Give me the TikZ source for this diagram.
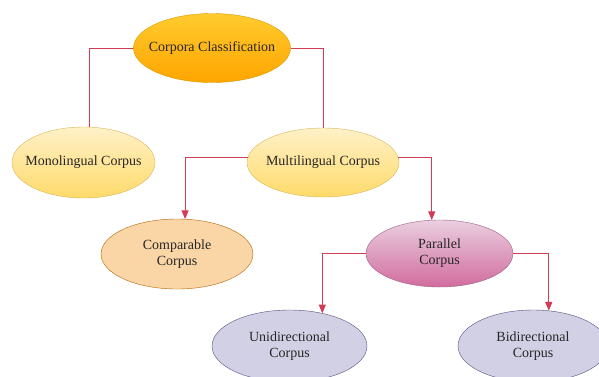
\documentclass[tikz,border=0pt]{standalone}
\usepackage{fontspec}
\setmainfont{Liberation Serif}
\usetikzlibrary{arrows,shapes,positioning}

\definecolor{linkred}{HTML}{D23A55}
\definecolor{rootline}{HTML}{D79B00}
\definecolor{roottop}{HTML}{FFCB2E}
\definecolor{rootbot}{HTML}{FFA500}
\definecolor{yellowline}{HTML}{D6B656}
\definecolor{yellowtop}{HTML}{FFF1C8}
\definecolor{yellowbot}{HTML}{FFDA6A}
\definecolor{orangeline}{HTML}{B46504}
\definecolor{orangefill}{HTML}{FAD5A6}
\definecolor{pinkline}{HTML}{996185}
\definecolor{pinktop}{HTML}{EACFE0}
\definecolor{pinkbot}{HTML}{D26C9E}
\definecolor{lavline}{HTML}{56517E}
\definecolor{lavfill}{HTML}{D2D0E4}

\tikzset{
    corpus/.style={ellipse, draw, inner sep=0pt, align=center, text=black!85,
                   font=\fontsize{14}{16}\selectfont},
    oneline/.style={inner xsep=-12pt},
    root/.style={corpus, oneline, draw=rootline, top color=roottop, bottom color=rootbot},
    group/.style={corpus, oneline, draw=yellowline, top color=yellowtop, bottom color=yellowbot},
    kind/.style={corpus, draw=orangeline, fill=orangefill},
    par/.style={corpus, draw=pinkline, top color=pinktop, bottom color=pinkbot},
    leaf/.style={corpus, draw=lavline, fill=lavfill},
    link/.style={draw=linkred, line width=1pt, to path={-| (\tikztotarget)}}
}

\begin{document}
\begin{tikzpicture}[x=1pt, y=-1pt, >=triangle 45]
            \useasboundingbox (0,0) rectangle (599,376);
            \node[root, minimum width=157, minimum height=69]  (C)  at (212,48)      {Corpora Classification};
            \node[group, minimum width=143, minimum height=71] (M)  at (83.5,162.5)  {Monolingual Corpus};
            \node[group, minimum width=152, minimum height=69] (ML) at (323,162.5)   {Multilingual Corpus};
            \node[kind, minimum width=152, minimum height=70]  (CP) at (177,254)     {Comparable\\Corpus};
            \node[par, minimum width=147, minimum height=67]   (P)  at (439.5,253.5) {Parallel\\Corpus};
            \node[leaf, minimum width=155, minimum height=72]  (U)  at (289.5,346)   {Unidirectional\\Corpus};
            \node[leaf, minimum width=150, minimum height=72]  (B)  at (533,346)     {Bidirectional\\Corpus};
            \path   (C.west) edge [link]     (M.81)
                    (C.east) edge [link]     (ML.north)
                    (ML.176) edge [link, ->] (CP.77)
                    (ML.4)   edge [link, ->] (P.103)
                    (P.west) edge [link, ->] (U.45)
                    (P.east) edge [link, ->] (B.66);
        \end{tikzpicture}
\end{document}
